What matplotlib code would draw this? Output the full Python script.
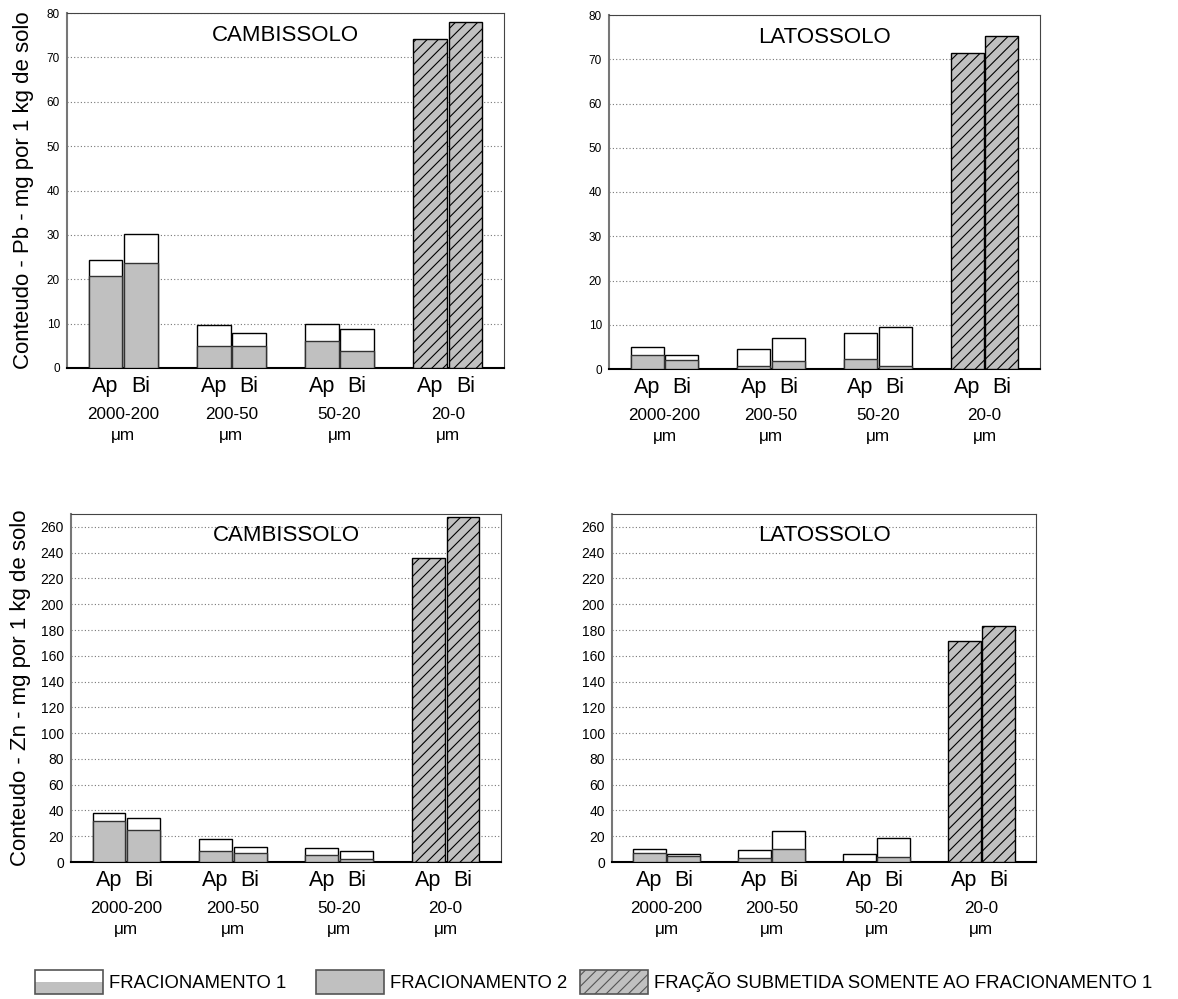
import matplotlib
matplotlib.use("Agg")
import matplotlib.pyplot as plt
import numpy as np
from matplotlib.patches import Rectangle, Patch
from matplotlib.legend_handler import HandlerBase

plt.rcParams['font.family'] = ['Liberation Sans', 'DejaVu Sans']
plt.rcParams['hatch.linewidth'] = 0.8

# ---------------- data ----------------
size_classes = ["2000-200\nμm", "200-50\nμm", "50-20\nμm", "20-0\nμm"]
horizons = ["Ap", "Bi"]
soils = ["CAMBISSOLO", "LATOSSOLO"]

# [Ap, Bi] for the three coarse fractions
pb_camb_f1 = [[24.4, 30.3], [9.6, 7.9], [9.85, 8.9]]
pb_camb_f2 = [[20.7, 23.6], [5.0, 5.0], [6.0, 3.9]]
pb_camb_fine = [74.1, 77.9]

pb_lato_f1 = [[4.9, 3.2], [4.6, 6.9], [8.1, 9.6]]
pb_lato_f2 = [[3.2, 2.0], [0.7, 1.9], [2.3, 0.75]]
pb_lato_fine = [71.4, 75.3]

zn_camb_f1 = [[37.9, 34.2], [17.6, 11.9], [10.6, 8.3]]
zn_camb_f2 = [[31.7, 25.2], [8.5, 6.7], [5.2, 2.3]]
zn_camb_fine = [235.6, 267.5]

zn_lato_f1 = [[10.4, 6.5], [9.1, 23.9], [6.5, 18.9]]
zn_lato_f2 = [[6.7, 4.4], [3.1, 9.9], [0.0, 3.9]]
zn_lato_fine = [171.7, 183.3]

ylabels = ["Conteudo - Pb - mg por 1 kg de solo", "Conteudo - Zn - mg por 1 kg de solo"]
legend_labels = ["FRACIONAMENTO 1", "FRACIONAMENTO 2",
                 "FRAÇÃO SUBMETIDA SOMENTE AO FRACIONAMENTO 1"]

GRAY = "#c0c0c0"

fig = plt.figure(figsize=(11.78, 9.99), dpi=100)

W, H = 1178, 999
def ax_at(l, t, r, b):
    return fig.add_axes([l / W, 1 - b / H, (r - l) / W, (b - t) / H])

axes = [
    ax_at(67, 13, 504, 368),
    ax_at(609, 15, 1040, 369),
    ax_at(71, 514, 501, 862),
    ax_at(612, 514, 1036, 862),
]

panels = [
    (pb_camb_f1, pb_camb_f2, pb_camb_fine, soils[0], 80, 10, 8.5),
    (pb_lato_f1, pb_lato_f2, pb_lato_fine, soils[1], 80, 10, 8.5),
    (zn_camb_f1, zn_camb_f2, zn_camb_fine, soils[0], 270, 20, 10),
    (zn_lato_f1, zn_lato_f2, zn_lato_fine, soils[1], 270, 20, 10),
]

bw = 0.31
off = 0.163

for i, (ax, (f1, f2, fine, soil, ymax, ystep, tfs)) in enumerate(zip(axes, panels)):
    x = np.arange(len(size_classes))
    f1 = np.array(f1)
    f2 = np.array(f2)
    for h, sgn in enumerate([-1, 1]):
        xs = x[:3] + sgn * off
        ax.bar(xs, f1[:, h], width=bw, color="white", edgecolor="black", linewidth=1.0, zorder=2)
        ax.bar(xs, f2[:, h], width=bw, color=GRAY, edgecolor="#333333", linewidth=1.0, zorder=3)
        ax.bar(x[3] + sgn * off, fine[h], width=bw, color=GRAY, edgecolor="black",
               linewidth=1.0, hatch="///", zorder=3)

    ax.set_xlim(-0.52, 3.52)
    ax.set_ylim(0, ymax)
    ax.set_yticks(np.arange(0, ymax + 1, ystep))
    ax.yaxis.grid(True, linestyle=(0, (1, 2)), color="#777777", linewidth=0.8, zorder=0)
    ax.set_axisbelow(True)
    ax.tick_params(axis="y", length=0, pad=5, labelsize=tfs)

    # x axis: horizons (minor) + size classes (major)
    ax.set_xticks(x)
    ax.set_xticklabels(size_classes, fontsize=12.3, linespacing=1.5)
    ax.set_xticks(np.concatenate([x - off, x + off]), minor=True)
    ax.set_xticklabels([horizons[0]] * 4 + [horizons[1]] * 4, minor=True, fontsize=15.5)
    ax.tick_params(axis="x", which="major", length=0, pad=28)
    ax.tick_params(axis="x", which="minor", length=0, pad=6)

    ax.text(0.5, 0.967, soil, transform=ax.transAxes, ha="center", va="top", fontsize=16)

    ax.spines["bottom"].set_linewidth(1.5)
    ax.spines["bottom"].set_color("black")
    ax.spines["left"].set_linewidth(1.5)
    ax.spines["left"].set_color("#777777")
    ax.spines["top"].set_color("#444444")
    ax.spines["right"].set_color("#444444")

axes[0].set_ylabel(ylabels[0], fontsize=16, labelpad=9)
axes[2].set_ylabel(ylabels[1], fontsize=16, labelpad=7)


# -------- legend --------
class SplitHandler(HandlerBase):
    def create_artists(self, legend, orig_handle, xdescent, ydescent, width, height, fontsize, trans):
        x0, y0 = -xdescent, -ydescent
        top = Rectangle((x0, y0 + height / 2), width, height / 2, fc="white", ec="none", transform=trans)
        bot = Rectangle((x0, y0), width, height / 2, fc=GRAY, ec="none", transform=trans)
        border = Rectangle((x0, y0), width, height, fc="none", ec="#555555", lw=1.2, transform=trans)
        return [top, bot, border]


class BoxHandler(HandlerBase):
    def create_artists(self, legend, orig_handle, xdescent, ydescent, width, height, fontsize, trans):
        x0, y0 = -xdescent, -ydescent
        box = Rectangle((x0, y0), width, height, fc=orig_handle.get_facecolor(),
                        ec="#555555", lw=1.2, hatch=orig_handle.get_hatch(), transform=trans)
        return [box]


h1 = Patch(facecolor="white")
h2 = Patch(facecolor=GRAY)
h3 = Patch(facecolor=GRAY, hatch="///")
handles = [h1, h2, h3]
handlers = [SplitHandler(), BoxHandler(), BoxHandler()]
leg_x = [35, 316, 580]
fs = 13.3
for hd, hl, lab, lx in zip(handles, handlers, legend_labels, leg_x):
    lg = fig.legend([hd], [lab], loc="center left", bbox_to_anchor=(lx / W, 1 - 982 / H),
                    frameon=False, fontsize=fs, handlelength=68 / (fs * 100 / 72),
                    handleheight=29 / (fs * 100 / 72), handletextpad=0.3,
                    borderpad=0, borderaxespad=0, handler_map={hd: hl})

fig.savefig("out.png", dpi=100)
